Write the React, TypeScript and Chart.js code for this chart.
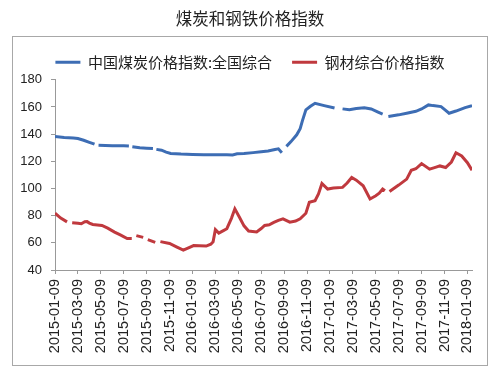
import React, { useEffect, useRef } from 'react';
import { Chart, registerables } from 'chart.js';

Chart.register(...registerables);

const chartTitle = '煤炭和钢铁价格指数';
const coalLabel = '中国煤炭价格指数:全国综合';
const steelLabel = '钢材综合价格指数';

const xTickLabels = [
  '2015-01-09', '2015-03-09', '2015-05-09', '2015-07-09', '2015-09-09', '2015-11-09',
  '2016-01-09', '2016-03-09', '2016-05-09', '2016-07-09', '2016-09-09', '2016-11-09',
  '2017-01-09', '2017-03-09', '2017-05-09', '2017-07-09', '2017-09-09', '2017-11-09',
  '2018-01-09',
];

// x = months since 2015-01-09 ; null = missing data (gap)
const coalMonths = [
  0, 0.8, 1.6, 2.0, 2.5, 3.0, 3.45, 3.6, 3.8,
  5.0, 6.0, 6.45, 6.6, 6.75, 7.4, 8.0, 8.55, 8.7, 8.85,
  9.3, 9.7, 10.1, 11, 12, 13, 14, 15, 15.5, 15.9,
  16.5, 17.3, 18, 18.6, 19.2, 19.5, 19.8, 20.0, 20.2, 20.6,
  21.1, 21.4, 21.6, 21.9, 22.3, 22.7, 23.5, 24.4, 24.7, 25.1,
  25.7, 26.3, 27.0, 27.6, 28.2, 28.6, 28.85, 29.1, 30.0, 30.7,
  31.5, 32.0, 32.6, 33.0, 33.7, 34.1, 34.4, 35.0, 35.8, 36.4,
];
const coalValues = [
  138.3, 137.6, 137.2, 136.8, 135.5, 134, 132.6, null, 131.9,
  131.5, 131.4, 131.2, null, 130.8, 130.0, 129.7, 129.5, null, 128.8,
  128.2, 126.8, 125.8, 125.3, 125.1, 124.9, 124.8, 124.8, 124.7, 125.5,
  125.8, 126.4, 127, 127.6, 128.7, 129.2, 126.3, null, 131.0, 134.5,
  139.5, 144, 150, 157.9, 160.5, 162.7, 161, 159.2, null, 158.6,
  157.9, 158.8, 159.4, 158.5, 156.2, 154.7, null, 153.0, 154.2, 155.4,
  156.8, 158.5, 161.5, 161.0, 160.3, 157.5, 155.4, 157, 159.5, 161.0,
];

const steelMonths = [
  0, 0.5, 1.05, 1.3, 1.5, 2.0, 2.3, 2.6, 2.8, 3.0,
  3.3, 3.7, 4.1, 4.6, 5.2, 5.7, 6.3, 6.7, 6.9, 7.1,
  7.7, 7.9, 8.1, 8.75, 9.0, 9.2, 10.0, 10.6, 11.2, 11.7,
  12.1, 12.6, 13.2, 13.6, 13.8, 14.0, 14.3, 14.7, 15.0, 15.4,
  15.7, 16.1, 16.5, 16.9, 17.6, 18.0, 18.3, 18.7, 19.1, 19.5,
  19.9, 20.5, 21.0, 21.4, 21.9, 22.2, 22.7, 23.0, 23.3, 23.8,
  24.3, 25.1, 25.5, 25.9, 26.3, 26.9, 27.5, 28.0, 28.3, 28.6,
  28.8, 29.0, 29.2, 30.0, 30.7, 31.1, 31.5, 32.0, 32.7, 33.2,
  33.6, 34.1, 34.6, 35.0, 35.5, 36.0, 36.4,
];
const steelValues = [
  81.8, 78.2, 75.4, null, 74.8, 74.4, 74.0, 75.5, 75.6, 74.5,
  73.5, 73.2, 72.8, 70.8, 67.9, 65.8, 63.1, 63.1, null, 65.3,
  64.0, null, 62.4, 60.3, null, 60.9, 59.5, 57, 54.6, 56.5,
  58.0, 57.8, 57.6, 59, 60.7, 69.7, 67.2, 69, 70.4, 78,
  85.0, 78.9, 72.5, 68.7, 68.0, 70.5, 72.8, 73.3, 75, 76.5,
  77.7, 75.2, 76, 77.7, 81.8, 89.8, 91.0, 96, 103.7, 99.6,
  100.3, 100.8, 104, 108.1, 106.1, 102, 92.3, 94.7, 96.5, 99.6,
  98.3, null, 97.8, 102.5, 106.9, 113.4, 114.5, 118.3, 114.2, 115.5,
  116.6, 115.4, 119.5, 126.3, 123.9, 119, 113.4,
];

const yMin = 40;
const yMax = 180;
const yStep = 20;

const tickFont = { family: '"Liberation Sans", Arial, sans-serif', size: 13 };
const cjkFont = '"Noto Sans CJK SC", sans-serif';

const framePlugin = {
  id: 'frame',
  beforeDraw(chart: any) {
    const ctx = chart.ctx;
    ctx.save();
    ctx.fillStyle = '#ffffff';
    ctx.fillRect(0, 0, chart.width, chart.height);
    ctx.strokeStyle = '#a8a8a8';
    ctx.lineWidth = 1;
    ctx.strokeRect(12.5, 36.5, 475, 329);
    ctx.restore();
  },
};

export default function App() {
  const ref = useRef<HTMLCanvasElement | null>(null);

  useEffect(() => {
    if (!ref.current) return;
    const chart = new Chart(ref.current, {
      type: 'line',
      data: {
        datasets: [
          {
            label: coalLabel,
            data: coalMonths.map((m, i) => ({ x: m, y: coalValues[i] })) as any,
            borderColor: '#3d6db4',
            backgroundColor: '#3d6db4',
            borderWidth: 3,
            pointRadius: 0,
            tension: 0,
            spanGaps: false,
          },
          {
            label: steelLabel,
            data: steelMonths.map((m, i) => ({ x: m, y: steelValues[i] })) as any,
            borderColor: '#c0393e',
            backgroundColor: '#c0393e',
            borderWidth: 3,
            pointRadius: 0,
            tension: 0,
            spanGaps: false,
          },
        ],
      },
      options: {
        responsive: false,
        animation: false,
        layout: { padding: { left: 12, right: 12, top: 0, bottom: 0 } },
        plugins: {
          title: {
            display: true,
            text: chartTitle,
            color: '#222',
            font: { family: cjkFont, size: 16.5, weight: 'normal' as any },
            padding: { top: 9, bottom: 6 },
          },
          legend: {
            display: true,
            position: 'top',
            labels: {
              usePointStyle: true,
              pointStyle: 'line',
              pointStyleWidth: 25,
              padding: 20,
              color: '#222',
              font: { family: cjkFont, size: 15 },
            },
          },
          tooltip: { enabled: false },
        },
        scales: {
          x: {
            type: 'linear',
            min: 0,
            max: 36.4,
            afterBuildTicks: (s: any) => {
              s.ticks = xTickLabels.map((_, i) => ({ value: i * 2 }));
            },
            afterFit: (s: any) => {
              s.height = 102;
            },
            ticks: {
              autoSkip: false,
              maxRotation: 90,
              minRotation: 90,
              padding: 5,
              color: '#222',
              font: { family: tickFont.family, size: 14.5 },
              callback: (v: any) => xTickLabels[Math.round(Number(v) / 2)],
            },
            grid: { display: true, drawOnChartArea: false, drawTicks: true, tickLength: 4, color: '#999' },
            border: { display: true, color: '#999' },
          },
          y: {
            min: yMin,
            max: yMax,
            afterFit: (s: any) => {
              s.width = 43;
            },
            ticks: { stepSize: yStep, padding: 9, color: '#222', font: tickFont },
            grid: { display: true, drawOnChartArea: false, drawTicks: true, tickLength: 4, color: '#999' },
            border: { display: true, color: '#999' },
          },
          y2: {
            position: 'right',
            afterFit: (s: any) => {
              s.width = 16;
            },
            ticks: { display: false },
            grid: { display: false },
            border: { display: false },
          },
        },
      } as any,
      plugins: [framePlugin],
    });
    return () => chart.destroy();
  }, []);

  return (
    <div style={{ position: 'fixed', left: 0, top: 0, width: 500, height: 372, background: '#fff' }}>
      <canvas ref={ref} width={500} height={372} />
    </div>
  );
}
